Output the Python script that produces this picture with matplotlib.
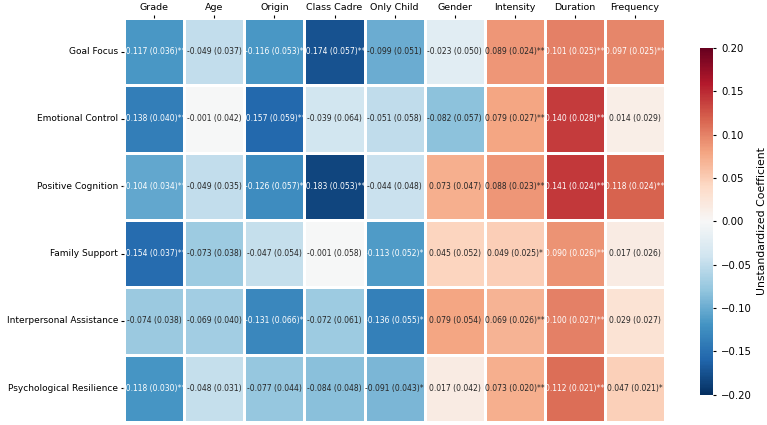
import numpy as np
import matplotlib
matplotlib.use("Agg")
import matplotlib.pyplot as plt
import seaborn as sns

columns = ["Grade", "Age", "Origin", "Class Cadre", "Only Child", "Gender",
           "Intensity", "Duration", "Frequency"]
rows = ["Goal Focus", "Emotional Control", "Positive Cognition", "Family Support",
        "Interpersonal Assistance", "Psychological Resilience"]

coef = [
    [-0.117, -0.049, -0.116, -0.174, -0.099, -0.023, 0.089, 0.101, 0.097],
    [-0.138, -0.001, -0.157, -0.039, -0.051, -0.082, 0.079, 0.140, 0.014],
    [-0.104, -0.049, -0.126, -0.183, -0.044, 0.073, 0.088, 0.141, 0.118],
    [-0.154, -0.073, -0.047, -0.001, -0.113, 0.045, 0.049, 0.090, 0.017],
    [-0.074, -0.069, -0.131, -0.072, -0.136, 0.079, 0.069, 0.100, 0.029],
    [-0.118, -0.048, -0.077, -0.084, -0.091, 0.017, 0.073, 0.112, 0.047],
]
se = [
    [0.036, 0.037, 0.053, 0.057, 0.051, 0.050, 0.024, 0.025, 0.025],
    [0.040, 0.042, 0.059, 0.064, 0.058, 0.057, 0.027, 0.028, 0.029],
    [0.034, 0.035, 0.057, 0.053, 0.048, 0.047, 0.023, 0.024, 0.024],
    [0.037, 0.038, 0.054, 0.058, 0.052, 0.052, 0.025, 0.026, 0.026],
    [0.038, 0.040, 0.066, 0.061, 0.055, 0.054, 0.026, 0.027, 0.027],
    [0.030, 0.031, 0.044, 0.048, 0.043, 0.042, 0.020, 0.021, 0.021],
]
stars = [
    ["**", "", "*", "**", "", "", "**", "**", "**"],
    ["**", "", "**", "", "", "", "**", "**", ""],
    ["**", "", "*", "**", "", "", "**", "**", "**"],
    ["**", "", "", "", "*", "", "*", "**", ""],
    ["", "", "*", "", "*", "", "**", "**", ""],
    ["**", "", "", "", "*", "", "**", "**", "*"],
]

C = np.array(coef)
labels = np.array([[f"{coef[i][j]:.3f} ({se[i][j]:.3f}){stars[i][j]}"
                    for j in range(len(columns))] for i in range(len(rows))])

fig = plt.figure(figsize=(7.67, 4.25), dpi=100)
ax = fig.add_axes([0.162, 0.007, 0.705, 0.951])
cax = fig.add_axes([0.913, 0.071, 0.016, 0.816])

sns.heatmap(C, ax=ax, cbar_ax=cax, cmap="RdBu_r", vmin=-0.2, vmax=0.2,
            annot=labels, fmt="", annot_kws={"fontsize": 5.5},
            linewidths=0.8, linecolor="white",
            xticklabels=columns, yticklabels=rows,
            cbar_kws={"label": "Unstandardized Coefficient"})

# text colour: white only on the darkest cells (blue side slightly stricter)
for t in ax.texts:
    v = float(t.get_text().split(" ")[0])
    if v < 0:
        t.set_color("w" if v <= -0.1 else ".15")

ax.xaxis.tick_top()
ax.tick_params(axis="x", labelsize=6.8, rotation=0, length=2.5, pad=2)
ax.tick_params(axis="y", labelsize=6.5, rotation=0, length=2.5, pad=2)
cax.tick_params(labelsize=7.3, length=2.5)
cax.yaxis.label.set_size(7.8)

fig.savefig("out.png", dpi=100)
